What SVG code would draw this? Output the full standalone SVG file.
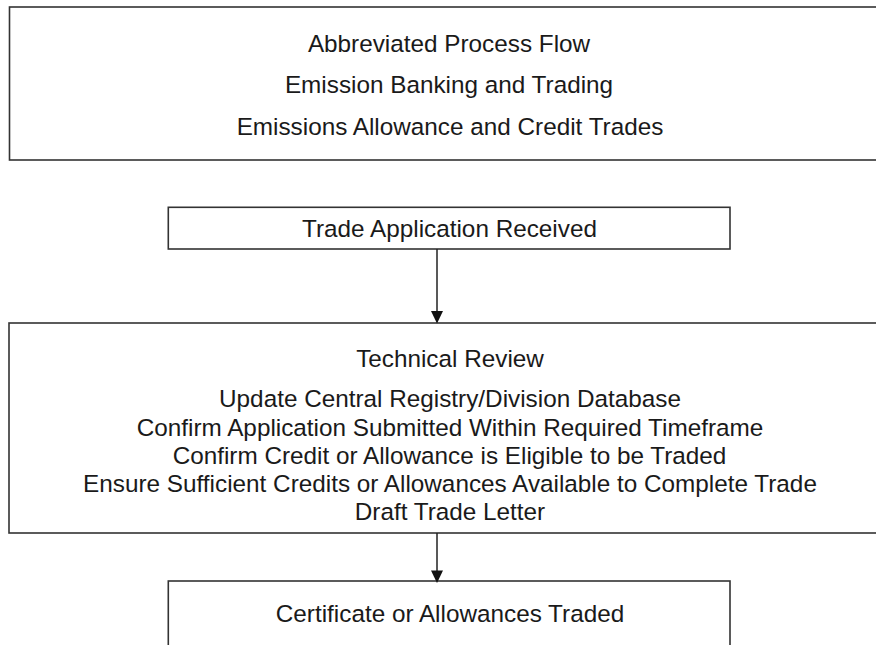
<svg xmlns="http://www.w3.org/2000/svg" width="876" height="645" viewBox="0 0 876 645">
<defs>
<style>
.box{fill:#fff;stroke:#333;stroke-width:1.6}
.t{font-family:"Liberation Sans",Arial,sans-serif;font-size:24.3px;fill:#1a1a1a;text-anchor:middle}
.ln{stroke:#222;stroke-width:1.5;fill:none}
.hd{fill:#111}
</style>
</defs>
<rect width="876" height="645" fill="#fff"/>
<g id="title">
<rect class="box" x="9.5" y="7" width="900" height="153"/>
<text class="t" x="449" y="52">Abbreviated Process Flow</text>
<text class="t" x="449" y="93">Emission Banking and Trading</text>
<text class="t" x="450" y="135">Emissions Allowance and Credit Trades</text>
</g>
<g id="received">
<rect class="box" x="168.3" y="207.3" width="561.7" height="41.7"/>
<text class="t" x="449.5" y="237">Trade Application Received</text>
</g>
<g id="review">
<rect class="box" x="9" y="323" width="900" height="210"/>
<text class="t" x="450" y="367">Technical Review</text>
<text class="t" x="450" y="407">Update Central Registry/Division Database</text>
<text class="t" x="450" y="436">Confirm Application Submitted Within Required Timeframe</text>
<text class="t" x="449.5" y="463.5">Confirm Credit or Allowance is Eligible to be Traded</text>
<text class="t" x="450" y="491.7">Ensure Sufficient Credits or Allowances Available to Complete Trade</text>
<text class="t" x="450" y="520">Draft Trade Letter</text>
</g>
<g id="traded">
<rect class="box" x="168.3" y="581" width="561.7" height="100"/>
<text class="t" x="450" y="622">Certificate or Allowances Traded</text>
</g>
<g id="connectors">
<line class="ln" x1="437" y1="249" x2="437" y2="312"/>
<polygon class="hd" points="431,311 443,311 437,323.5"/>
<line class="ln" x1="437" y1="533" x2="437" y2="571"/>
<polygon class="hd" points="431,570.5 443,570.5 437,583"/>
</g>
</svg>
